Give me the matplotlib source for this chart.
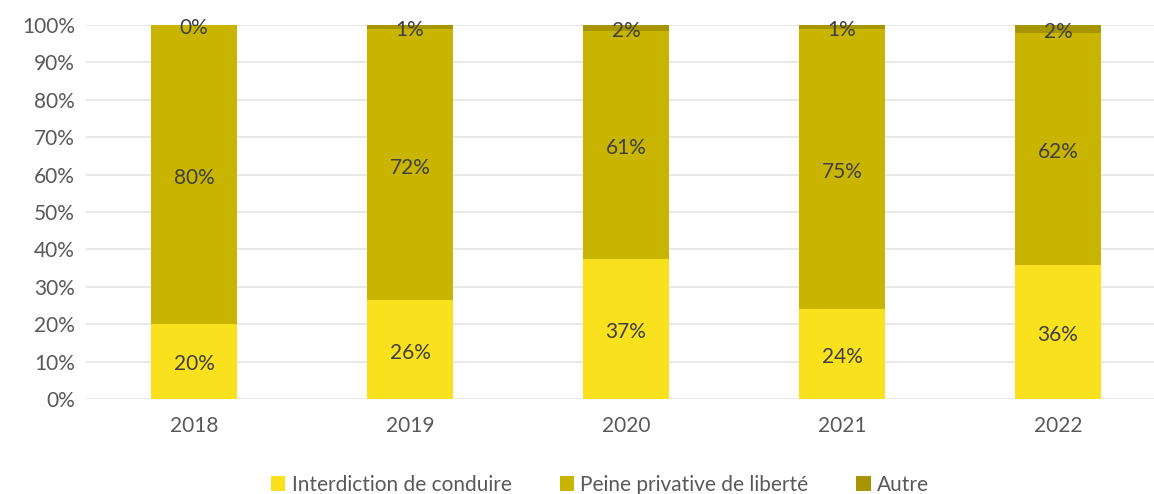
import matplotlib.pyplot as plt
import matplotlib.transforms as mtransforms
import numpy as np

plt.rcParams['font.family'] = ['Lato', 'DejaVu Sans']

years = ['2018', '2019', '2020', '2021', '2022']
interdiction = [20.1, 26.4, 37.3, 24.1, 35.9]
peine = [79.8, 72.5, 61.1, 74.9, 62.0]
autre = [0.1, 1.1, 1.6, 1.0, 2.1]
names = ['Interdiction de conduire', 'Peine privative de liberté', 'Autre']
colors = ['#F9E11E', '#C9B500', '#A69400']

fig = plt.figure(figsize=(11.54, 4.94), dpi=100)
ax = fig.add_axes([86 / 1154, 1 - 399 / 494, 1 - 86 / 1154, 374 / 494])

# petit décalage vers le bas pour les étiquettes
shift = ax.transData + mtransforms.ScaledTranslation(0, -3 / 100, fig.dpi_scale_trans)

x = np.arange(len(years))
bottom = np.zeros(len(years))
for vals, name, col in zip([interdiction, peine, autre], names, colors):
    vals = np.array(vals)
    ax.bar(x, vals, 0.4, bottom=bottom, color=col, label=name, zorder=2)
    for xi, b, v in zip(x, bottom, vals):
        ax.text(xi, b + v / 2, f'{v:.0f}%', ha='center', va='center',
                fontsize=15, color='#404040', zorder=3, transform=shift)
    bottom += vals

ax.set_xlim(-0.5, 4.5 - 12 / 216)
ax.set_ylim(0, 100)
ax.set_yticks(range(0, 101, 10))
ax.set_yticklabels([f'{v}%' for v in range(0, 101, 10)])
ax.set_xticks(x)
ax.set_xticklabels(years)
ax.tick_params(length=0, labelsize=15, labelcolor='#595959')
ax.tick_params(axis='x', pad=12)
ax.tick_params(axis='y', pad=8)
ax.grid(axis='y', color='#E6E6E6', linewidth=1.3, zorder=0)
for s in ax.spines.values():
    s.set_visible(False)

fig.legend(loc='lower center', bbox_to_anchor=(0.52, -0.04), ncol=3, frameon=False,
           fontsize=15, labelcolor='#595959', handlelength=0.7, handleheight=0.7,
           handletextpad=0.3, columnspacing=2.3)

fig.savefig('out.png', dpi=100)
